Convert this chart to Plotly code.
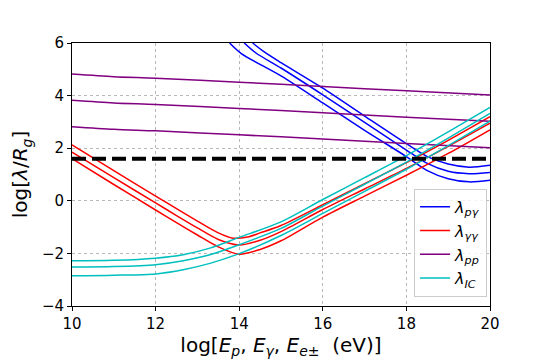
"""
Mean free paths vs. energy, compared with the source size (dashed line).
"""
import plotly.graph_objects as go

# ---- data ----
# lambda_p-gamma (three curves)
pg_x = [[13.77, 14.05, 15.0, 16.0, 17.0, 18.0, 18.5, 19.0, 19.5, 20.0],
        [14.12, 14.4, 15.0, 16.0, 17.0, 18.0, 18.5, 19.0, 19.5, 20.0],
        [14.32, 14.6, 15.0, 16.0, 17.0, 18.0, 18.5, 19.0, 19.5, 20.0]]
pg_y = [[6.0, 5.6, 4.75, 3.72, 2.68, 1.68, 1.15, 0.84, 0.72, 0.78],
        [6.0, 5.62, 5.05, 4.03, 2.98, 1.93, 1.42, 1.12, 1.03, 1.08],
        [6.0, 5.66, 5.25, 4.28, 3.22, 2.17, 1.68, 1.4, 1.28, 1.35]]

# lambda_gamma-gamma
gg_x = [[10, 11, 12, 12.5, 13, 13.5, 13.85, 14.2, 14.5, 15, 16, 17, 18, 19, 20],
        [10, 11, 12, 12.5, 13, 13.5, 14.0, 14.5, 15, 16, 17, 18, 19, 20],
        [10, 11, 12, 12.5, 13, 13.5, 14.0, 14.5, 15, 16, 17, 18, 19, 20]]
gg_y = [[2.13, 1.15, 0.18, -0.3, -0.77, -1.22, -1.42, -1.38, -1.22, -0.94, -0.15, 0.65, 1.45, 2.3, 3.2],
        [1.85, 0.88, -0.08, -0.56, -1.03, -1.47, -1.68, -1.5, -1.17, -0.33, 0.45, 1.23, 2.07, 2.95],
        [1.6, 0.62, -0.35, -0.83, -1.3, -1.75, -2.03, -1.85, -1.52, -0.62, 0.18, 0.97, 1.8, 2.7]]

# lambda_pp
pp_x = [10, 11, 12, 14, 16, 18, 20]
pp_y = [[4.82, 4.72, 4.66, 4.51, 4.35, 4.18, 4.02],
        [3.82, 3.72, 3.66, 3.51, 3.35, 3.18, 3.02],
        [2.82, 2.72, 2.66, 2.51, 2.35, 2.18, 2.02]]

# lambda_IC
ic_x = [10, 11, 12, 12.66, 13.3, 14, 15, 16, 17, 18, 19, 20]
ic_y = [[-2.28, -2.26, -2.18, -2.05, -1.8, -1.39, -0.8, 0.05, 0.88, 1.72, 2.62, 3.55],
        [-2.52, -2.5, -2.43, -2.28, -2.05, -1.67, -1.05, -0.2, 0.63, 1.47, 2.38, 3.32],
        [-2.85, -2.83, -2.78, -2.62, -2.38, -2.01, -1.32, -0.48, 0.36, 1.2, 2.1, 3.03]]

source_size = 1.6
x_range = [10, 20]

fig = go.Figure()

def add_group(xs_list, ys_list, color, name):
    for i, (xs, ys) in enumerate(zip(xs_list, ys_list)):
        fig.add_trace(go.Scatter(
            x=xs, y=ys, mode='lines', name=name, legendgroup=name,
            showlegend=(i == 0),
            line=dict(color=color, width=1.5, shape='spline', smoothing=0.8),
        ))

add_group(pg_x, pg_y, '#0000ff', '<i>λ</i><sub><i>pγ</i></sub>')
add_group(gg_x, gg_y, '#ff0000', '<i>λ</i><sub><i>γγ</i></sub>')
add_group([pp_x] * 3, pp_y, '#800080', '<i>λ</i><sub><i>pp</i></sub>')
add_group([ic_x] * 3, ic_y, '#00bfbf', '<i>λ</i><sub><i>IC</i></sub>')

# dashed source size line
fig.add_trace(go.Scatter(
    x=x_range, y=[source_size, source_size], mode='lines', showlegend=False,
    line=dict(color='black', width=4, dash='14px,6px'),
))

axis_common = dict(
    showline=True, linecolor='black', linewidth=1, mirror=True,
    ticks='outside', ticklen=4, tickcolor='black',
    showgrid=True, gridcolor='#b8b8b8', griddash='dot', gridwidth=1,
    zeroline=False, tickfont=dict(size=15, color='black'),
)

fig.update_xaxes(range=x_range, dtick=2, **axis_common,
                 title=dict(text='log[<i>E</i><sub><i>p</i></sub>, <i>E</i><sub><i>γ</i></sub>, <i>E</i><sub><i>e</i>±</sub>  (eV)]',
                            font=dict(size=20, color='black'), standoff=4))
fig.update_yaxes(range=[-4, 6], dtick=2, **axis_common,
                 title=dict(text='log[<i>λ</i>/<i>R</i><sub><i>g</i></sub>]',
                            font=dict(size=20, color='black'), standoff=8))

# the page adds an 8px body margin, so the figure is drawn 8px smaller
fig.update_layout(
    width=537, height=355,
    margin=dict(l=60, r=55, t=35, b=47),
    paper_bgcolor='white', plot_bgcolor='white',
    font=dict(family='DejaVu Sans', color='black'),
    showlegend=True,
    legend=dict(x=0.993, y=0.035, xanchor='right', yanchor='bottom',
                bgcolor='rgba(255,255,255,0.8)', bordercolor='#cccccc', borderwidth=1,
                font=dict(size=16), tracegroupgap=0, itemwidth=30),
)

fig.write_html("out.html")
